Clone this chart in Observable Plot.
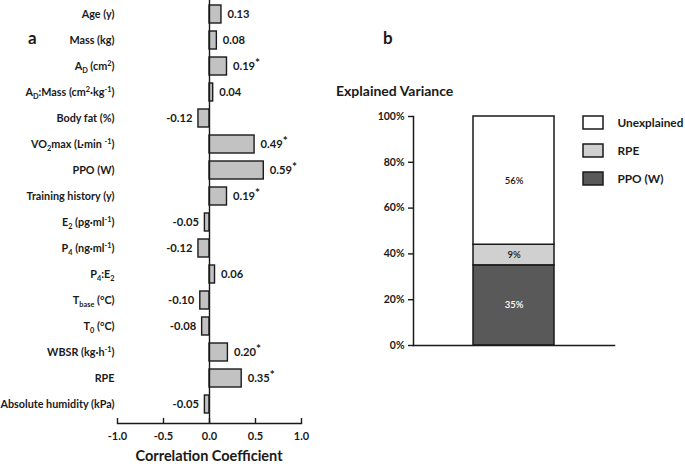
<!DOCTYPE html>
<html>
<head>
<meta charset="utf-8">
<script src="https://cdn.jsdelivr.net/npm/d3@7"></script>
<script src="https://cdn.jsdelivr.net/npm/@observablehq/plot@0.6"></script>
<style>
  body { margin: 0; background: #fff; }
  #root { position: relative; width: 685px; height: 468px; font-family: Lato, "Open Sans", sans-serif; color: #1a1a1a; overflow: hidden; }
  .abs { position: absolute; }
  .lbl { position: absolute; font-weight: bold; white-space: nowrap; line-height: 1; }
</style>
</head>
<body>
<div id="root"></div>
<script>
// ---- Panel a data ----
const predictors = ["Age (y)", "Mass (kg)", "A_{D} (cm^{2})", "A_{D}:Mass (cm^{2}·kg^{-1})", "Body fat (%)",
  "VO_{2}max (L·min ^{-1})", "PPO (W)", "Training history (y)", "E_{2} (pg·ml^{-1})", "P_{4} (ng·ml^{-1})",
  "P_{4}:E_{2}", "T_{base} (°C)", "T_{0} (°C)", "WBSR (kg·h^{-1})", "RPE", "Absolute humidity (kPa)"];
const correlations = [0.13, 0.08, 0.19, 0.04, -0.12, 0.49, 0.59, 0.19, -0.05, -0.12, 0.06, -0.10, -0.08, 0.20, 0.35, -0.05];
const significant = [false, false, true, false, false, true, true, true, false, false, false, false, false, true, true, false];
const xTicks = [-1, -0.5, 0, 0.5, 1];

// ---- Panel b data ----
const components = ["PPO (W)", "RPE", "Unexplained"];
const shares = [0.35, 0.09, 0.56];
const componentFills = ["#595959", "#d0d0d0", "#ffffff"];
const legendOrder = ["Unexplained", "RPE", "PPO (W)"];
const yTicksB = [0, 0.2, 0.4, 0.6, 0.8, 1];

const corrData = predictors.map((name, i) => ({name, value: correlations[i], sig: significant[i]}));
const varData = components.map((name, i) => ({name, share: shares[i], group: "all"}));

const root = document.getElementById("root");
const ink = "#1a1a1a";
const baseStyle = {fontFamily: "Lato, 'Open Sans', sans-serif", fontSize: "11px", color: ink, background: "transparent", overflow: "visible"};
const valText = d => d.value.toFixed(2) + (d.sig ? "^{*}" : "");

// ---- Panel a ----
const plotA = Plot.plot({
  width: 320, height: 445,
  marginLeft: 117, marginRight: 19, marginTop: 0, marginBottom: 22,
  style: baseStyle,
  x: {domain: [-1, 1], label: null},
  y: {domain: predictors, paddingInner: 0.31, paddingOuter: 0.27, align: 0.36, label: null},
  marks: [
    Plot.barX(corrData, {x: "value", y: "name", fill: "#c2c2c2", stroke: ink, strokeWidth: 1.4}),
    Plot.ruleX([0], {stroke: ink, strokeWidth: 1.4}),
    Plot.frame({anchor: "bottom", stroke: ink, strokeWidth: 1.4}),
    Plot.axisX({ticks: xTicks, tickSize: 5, dy: -5, tickFormat: () => "", label: null, stroke: ink, strokeWidth: 1.4}),
    Plot.axisX({ticks: xTicks, tickSize: 0, tickPadding: 9, tickFormat: d => d.toFixed(1), label: null, fontWeight: "bold", fontSize: 11, fill: ink}),
    Plot.axisY({tickSize: 0, tickPadding: 3, label: null, fontWeight: "bold", fontSize: 10.8, fill: ink}),
    Plot.text(corrData.filter(d => d.value >= 0), {x: "value", y: "name", text: valText, textAnchor: "start", dx: 6, fontWeight: "bold", fontSize: 11.2, fill: ink}),
    Plot.text(corrData.filter(d => d.value < 0), {x: "value", y: "name", text: valText, textAnchor: "end", dx: -6, fontWeight: "bold", fontSize: 11.2, fill: ink})
  ]
});
plotA.classList.add("abs");
plotA.style.left = "0px"; plotA.style.top = "0px";
root.appendChild(plotA);

// ---- Panel b ----
const colorB = {domain: components, range: componentFills};
const plotB = Plot.plot({
  width: 365, height: 468,
  marginLeft: 93, marginRight: 71, marginTop: 116, marginBottom: 123,
  style: baseStyle,
  x: {type: "band", domain: ["all"], paddingInner: 0, paddingOuter: 0.74, axis: null, label: null},
  y: {domain: [0, 1], label: null},
  color: colorB,
  marks: [
    Plot.barY(varData, {x: "group", y: "share", fill: "name", stroke: ink, strokeWidth: 1.5}),
    Plot.text(varData, Plot.stackY({x: "group", y: "share", text: d => Math.round(d.share * 100) + "%",
      fill: d => d.name === "PPO (W)" ? "#ffffff" : ink, fontSize: 9.5, fontWeight: 600})),
    Plot.frame({anchor: "left", stroke: ink, strokeWidth: 1.5}),
    Plot.frame({anchor: "bottom", stroke: ink, strokeWidth: 1.5}),
    Plot.axisY({ticks: yTicksB, tickFormat: d3.format(".0%"), tickSize: 5, tickPadding: 4, label: null,
      fontWeight: "bold", fontSize: 10.5, fill: ink, stroke: ink, strokeWidth: 1.4})
  ]
});
plotB.classList.add("abs");
plotB.style.left = "320px"; plotB.style.top = "0px";
root.appendChild(plotB);

// ---- Legend ----
const legend = Plot.plot({
  width: 110, height: 85,
  marginLeft: 0, marginRight: 90, marginTop: 0, marginBottom: 0,
  style: baseStyle,
  x: {axis: null},
  y: {domain: legendOrder, paddingInner: 0.544, paddingOuter: 0.27, axis: null},
  color: colorB,
  marks: [
    Plot.cell(legendOrder, {y: d => d, fill: d => d, stroke: ink, strokeWidth: 1.5}),
    Plot.text(legendOrder, {y: d => d, text: d => d, frameAnchor: "right", textAnchor: "start", dx: 14, fontWeight: "bold", fontSize: 11.8, fill: ink})
  ]
});
legend.classList.add("abs");
legend.style.left = "583px"; legend.style.top = "108px";
root.appendChild(legend);

// ---- Text labels ----
function addLabel(text, left, top, size) {
  const d = document.createElement("div");
  d.className = "lbl";
  d.textContent = text;
  d.style.left = left + "px"; d.style.top = top + "px"; d.style.fontSize = size + "px";
  root.appendChild(d);
  return d;
}
addLabel("a", 28, 29, 17);
addLabel("b", 383, 29, 17);
addLabel("Explained Variance", 336, 84, 14);
const cc = addLabel("Correlation Coefficient", 0, 449, 14.5);
cc.style.left = (209 - cc.offsetWidth / 2) + "px";

// ---- Sub/superscript markup to tspans ----
const svgns = "http://www.w3.org/2000/svg";
root.querySelectorAll("svg text").forEach(t => {
  const s = t.textContent;
  if (!/[_^]\{/.test(s)) return;
  const fs = parseFloat(getComputedStyle(t).fontSize) || 11;
  while (t.firstChild) t.removeChild(t.firstChild);
  let shift = 0;
  const add = (txt, kind) => {
    const ts = document.createElementNS(svgns, "tspan");
    ts.textContent = txt;
    const star = kind === "^" && txt === "*";
    const target = kind === "_" ? fs * 0.3 : kind === "^" ? -fs * (star ? 0.3 : 0.38) : 0;
    const dy = target - shift;
    if (dy) ts.setAttribute("dy", dy.toFixed(2));
    shift = target;
    if (kind) ts.setAttribute("font-size", (fs * (star ? 1.05 : 0.68)).toFixed(2));
    t.appendChild(ts);
  };
  const re = /([_^])\{([^}]*)\}/g;
  let last = 0, m;
  while ((m = re.exec(s))) {
    if (m.index > last) add(s.slice(last, m.index), null);
    add(m[2], m[1]);
    last = re.lastIndex;
  }
  if (last < s.length) add(s.slice(last), null);
});
</script>
</body>
</html>
